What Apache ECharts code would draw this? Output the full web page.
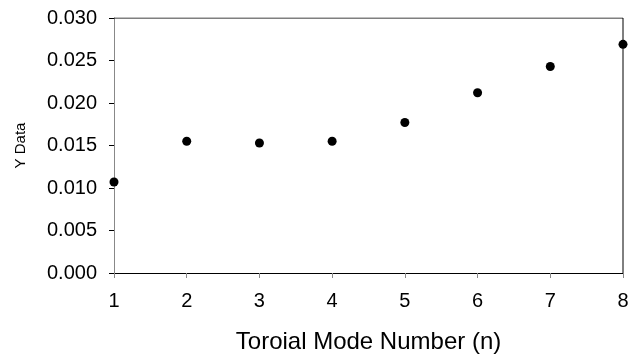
<!DOCTYPE html>
<html>
<head>
<meta charset="utf-8">
<script src="https://cdn.jsdelivr.net/npm/echarts@6/dist/echarts.min.js"></script>
<style>
  html, body { margin: 0; padding: 0; background: #fff; }
  #chart { width: 630px; height: 354px; }
</style>
</head>
<body>
<div id="chart"></div>
<script>
// Mode numbers and measured Y values
const modeNumbers = [1, 2, 3, 4, 5, 6, 7, 8];
const yValues = [0.0107, 0.0155, 0.0153, 0.0155, 0.0177, 0.0212, 0.0243, 0.0269];
const yTicks = [0, 0.005, 0.01, 0.015, 0.02, 0.025, 0.03];

const chart = echarts.init(document.getElementById("chart"));

const font = "Liberation Sans, Arial, sans-serif";

chart.setOption({
    animation: false,
    grid: { left: 114, right: 7, top: 18, bottom: 81, outerBoundsMode: "none", containLabel: false },
    xAxis: {
        type: "value",
        min: 1,
        max: 8,
        interval: 1,
        name: "Toroial Mode Number (n)",
        nameLocation: "middle",
        nameGap: 57,
        nameTextStyle: { fontFamily: font, fontSize: 24, color: "#000" },
        axisLine: { show: true, onZero: false, lineStyle: { color: "#000", width: 1 } },
        axisTick: { show: true, inside: false, length: 5, lineStyle: { color: "#888" } },
        axisLabel: { fontFamily: font, fontSize: 20, color: "#000", margin: 18 },
        splitLine: { show: false }
    },
    yAxis: {
        type: "value",
        min: yTicks[0],
        max: yTicks[yTicks.length - 1],
        interval: 0.005,
        name: "Y Data",
        nameLocation: "middle",
        nameGap: 86,
        nameTextStyle: { fontFamily: font, fontSize: 15, color: "#000" },
        axisLine: { show: true, lineStyle: { color: "#888", width: 1 } },
        axisTick: { show: true, inside: false, length: 5, lineStyle: { color: "#000" } },
        axisLabel: {
            fontFamily: font, fontSize: 20, color: "#000", margin: 17,
            formatter: (v) => v.toFixed(3)
        },
        splitLine: { show: false }
    },
    series: [
        {
            type: "scatter",
            data: modeNumbers.map((n, i) => [n, yValues[i]]),
            symbol: "circle",
            symbolSize: 9,
            itemStyle: { color: "#000", opacity: 1 },
            clip: false,
            z: 5
        },
        {
            // top and right frame
            type: "line",
            data: [[1, 0.03], [8, 0.03], [8, 0]],
            symbol: "none",
            lineStyle: { color: "#000", width: 1 },
            silent: true,
            z: 1
        }
    ]
});
</script>
</body>
</html>
